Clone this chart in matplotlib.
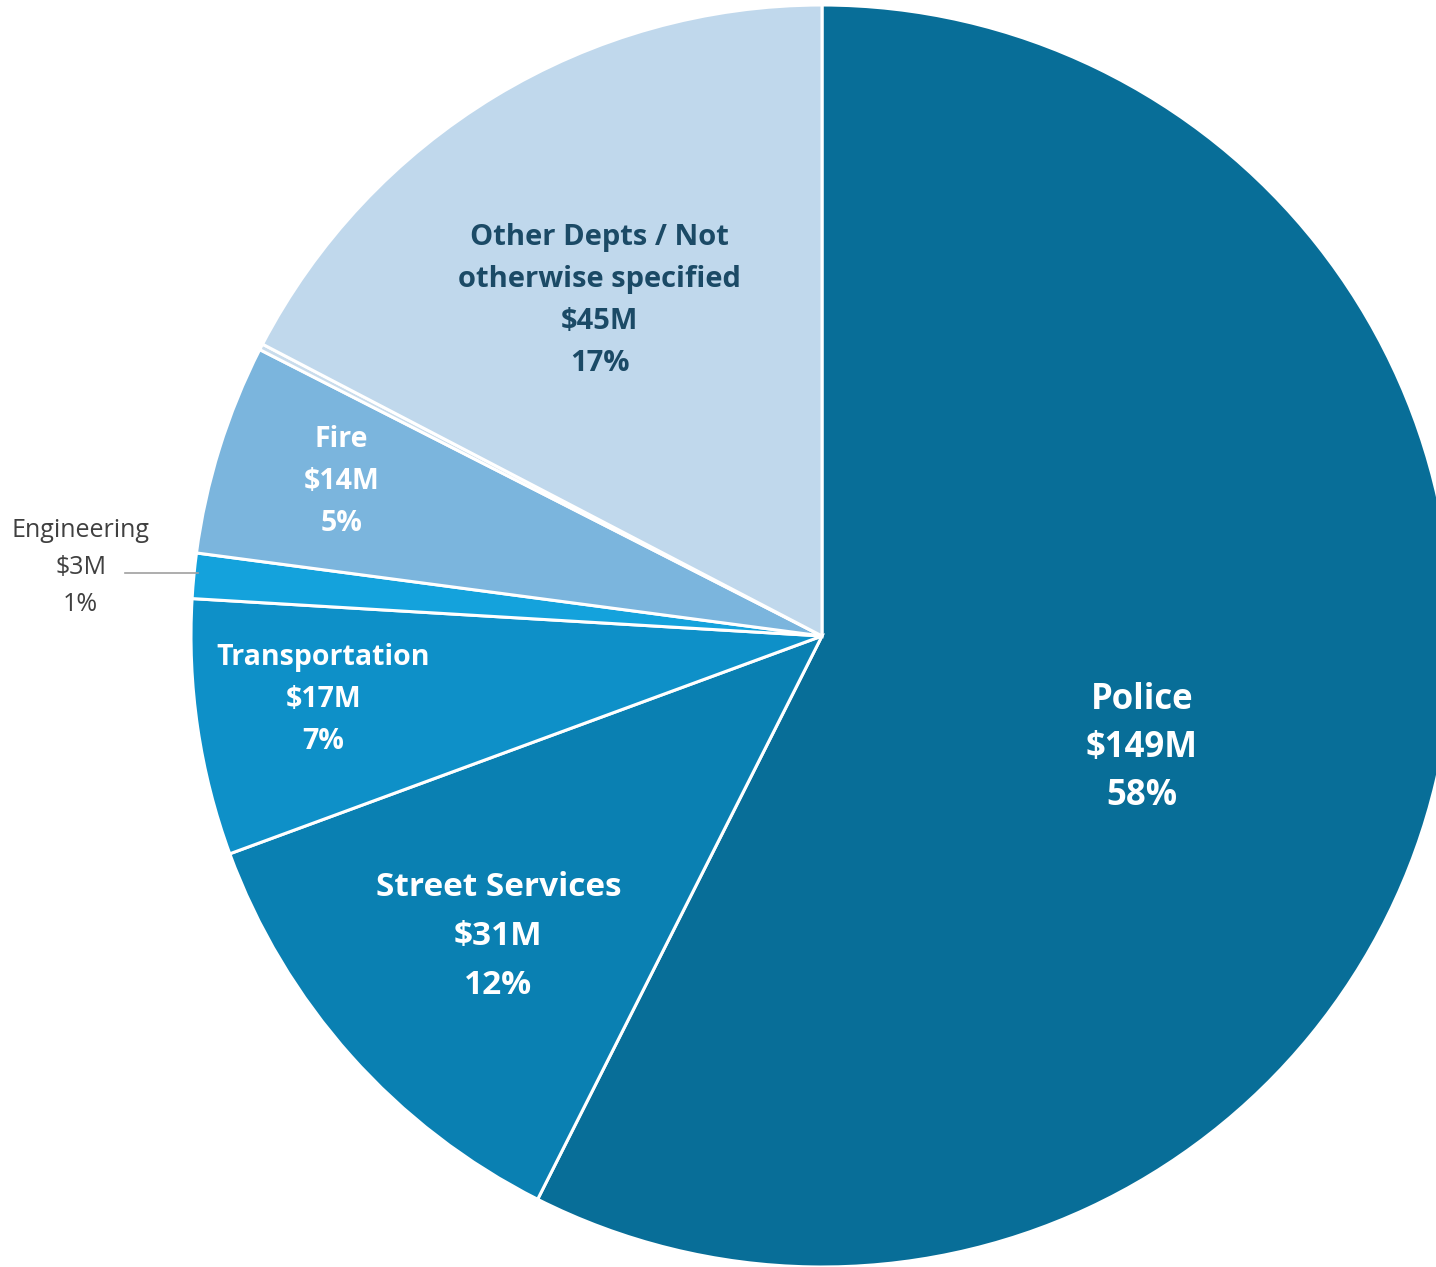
import matplotlib
matplotlib.use("Agg")
import matplotlib.pyplot as plt
import numpy as np

# ---- data ----
departments = ["Police", "Street Services", "Transportation", "Engineering", "Fire", "", "Other Depts / Not\notherwise specified"]
amounts_m = [149, 31, 17, 3, 14, 0.4, 45]
amount_labels = ["$149M", "$31M", "$17M", "$3M", "$14M", "", "$45M"]
pct_labels = ["58%", "12%", "7%", "1%", "5%", "", "17%"]

# ---- style ----
colors = ["#086E98", "#0A80B2", "#0E90C8", "#14A2DC", "#7BB5DD", "#C9DCEC", "#C0D8EC"]
text_colors = ["white", "white", "white", "#404040", "white", None, "#1B4A66"]
font_sizes = [25, 24, 20.5, 18, 20.5, 0, 21]
line_steps = [48, 49, 42, 37, 42, 0, 42]
# label placement in polar form: (angle deg, radius fraction)
label_polar = [(-19.3, 0.537), (222.9, 0.70), (187.3, 0.797), (174.7, 1.18), (162.2, 0.80), None, (123.5, 0.638)]

W, H = 1436, 1267
fig = plt.figure(figsize=(W / 100, H / 100), dpi=100)
ax = fig.add_axes([0, 0, 1, 1])

cx, cy, R = 822, H - 636, 631
wedges, _ = ax.pie(amounts_m, colors=colors, startangle=90, counterclock=False,
                   center=(cx, cy), radius=R, frame=True,
                   wedgeprops=dict(edgecolor="white", linewidth=2.2))
ax.set_xlim(0, W)
ax.set_ylim(0, H)
ax.set_aspect("equal")
ax.axis("off")

FONT = "Open Sans"
for i, name in enumerate(departments):
    if not name or label_polar[i] is None:
        continue
    ang, rf = label_polar[i]
    x = cx + rf * R * np.cos(np.radians(ang))
    y = cy + rf * R * np.sin(np.radians(ang))
    lines = name.split("\n") + [amount_labels[i], pct_labels[i]]
    n = len(lines)
    weight = "normal" if departments[i] == "Engineering" else "bold"
    for k, line in enumerate(lines):
        yy = y - (k - (n - 1) / 2) * line_steps[i]
        ax.text(x, yy, line, ha="center", va="center", fontsize=font_sizes[i],
                fontweight=weight, color=text_colors[i], family=FONT)

# leader line for Engineering
w = wedges[3]
mid = np.radians((w.theta1 + w.theta2) / 2)
ex = cx + R * np.cos(mid)
ey = cy + R * np.sin(mid)
ax.plot([125, ex + 4], [ey + 3, ey + 3], color="#A0A0A0", linewidth=1.2)

fig.savefig("out.png", dpi=100)
